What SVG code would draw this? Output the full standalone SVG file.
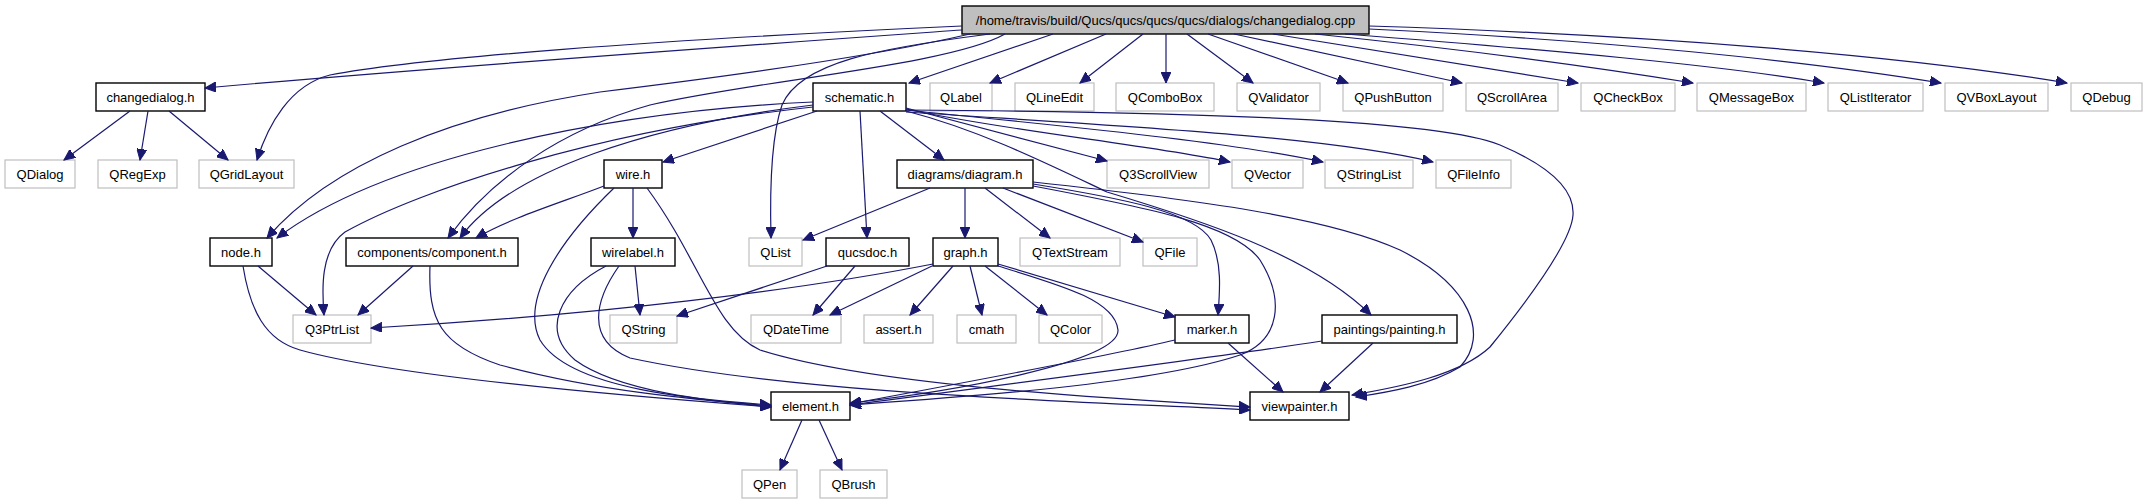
<svg xmlns="http://www.w3.org/2000/svg" width="2147" height="504" viewBox="0 0 2147 504">
<style>
.e{fill:none;stroke:#191970;stroke-width:1.2;marker-end:url(#ah)}
.n rect{fill:#fff;stroke:#000;stroke-width:1.4}
.x rect{fill:#fff;stroke:#bfbfbf;stroke-width:1.2}
.r rect{fill:#bfbfbf;stroke:#000;stroke-width:1.4}
text{font-family:"Liberation Sans",Arial,sans-serif;font-size:13px;text-anchor:middle;fill:#000}
</style>
<defs>
<marker id="ah" markerWidth="12" markerHeight="10" refX="11" refY="5" orient="auto" markerUnits="userSpaceOnUse">
<path d="M0,0 L11,5 L0,10 z" fill="#191970" stroke="#191970" stroke-width="1"/>
</marker>
</defs>
<rect width="2147" height="504" fill="#fff"/>
<g id="nodes">
<g id="root" class="r"><rect x="962" y="6" width="407" height="28"/><text x="1165.5" y="24.5">/home/travis/build/Qucs/qucs/qucs/qucs/dialogs/changedialog.cpp</text></g>
<g id="changedialog_h" class="n"><rect x="96" y="83" width="109" height="28"/><text x="150.5" y="101.5">changedialog.h</text></g>
<g id="schematic_h" class="n"><rect x="813" y="83" width="93" height="28"/><text x="859.5" y="101.5">schematic.h</text></g>
<g id="QLabel" class="x"><rect x="930" y="83" width="62" height="28"/><text x="961" y="101.5">QLabel</text></g>
<g id="QLineEdit" class="x"><rect x="1015" y="83" width="79" height="28"/><text x="1054.5" y="101.5">QLineEdit</text></g>
<g id="QComboBox" class="x"><rect x="1116" y="83" width="98" height="28"/><text x="1165" y="101.5">QComboBox</text></g>
<g id="QValidator" class="x"><rect x="1237" y="83" width="83" height="28"/><text x="1278.5" y="101.5">QValidator</text></g>
<g id="QPushButton" class="x"><rect x="1343" y="83" width="100" height="28"/><text x="1393" y="101.5">QPushButton</text></g>
<g id="QScrollArea" class="x"><rect x="1466" y="83" width="92" height="28"/><text x="1512" y="101.5">QScrollArea</text></g>
<g id="QCheckBox" class="x"><rect x="1581" y="83" width="94" height="28"/><text x="1628" y="101.5">QCheckBox</text></g>
<g id="QMessageBox" class="x"><rect x="1697" y="83" width="109" height="28"/><text x="1751.5" y="101.5">QMessageBox</text></g>
<g id="QListIterator" class="x"><rect x="1828" y="83" width="95" height="28"/><text x="1875.5" y="101.5">QListIterator</text></g>
<g id="QVBoxLayout" class="x"><rect x="1945" y="83" width="103" height="28"/><text x="1996.5" y="101.5">QVBoxLayout</text></g>
<g id="QDebug" class="x"><rect x="2071" y="83" width="71" height="28"/><text x="2106.5" y="101.5">QDebug</text></g>
<g id="QDialog" class="x"><rect x="5" y="160" width="70" height="28"/><text x="40" y="178.5">QDialog</text></g>
<g id="QRegExp" class="x"><rect x="98" y="160" width="79" height="28"/><text x="137.5" y="178.5">QRegExp</text></g>
<g id="QGridLayout" class="x"><rect x="199" y="160" width="95" height="28"/><text x="246.5" y="178.5">QGridLayout</text></g>
<g id="wire_h" class="n"><rect x="604" y="160" width="58" height="28"/><text x="633" y="178.5">wire.h</text></g>
<g id="diagram_h" class="n"><rect x="897" y="160" width="136" height="28"/><text x="965" y="178.5">diagrams/diagram.h</text></g>
<g id="Q3ScrollView" class="x"><rect x="1107" y="160" width="102" height="28"/><text x="1158" y="178.5">Q3ScrollView</text></g>
<g id="QVector" class="x"><rect x="1232" y="160" width="71" height="28"/><text x="1267.5" y="178.5">QVector</text></g>
<g id="QStringList" class="x"><rect x="1325" y="160" width="88" height="28"/><text x="1369" y="178.5">QStringList</text></g>
<g id="QFileInfo" class="x"><rect x="1436" y="160" width="75" height="28"/><text x="1473.5" y="178.5">QFileInfo</text></g>
<g id="node_h" class="n"><rect x="210" y="238" width="62" height="28"/><text x="241" y="256.5">node.h</text></g>
<g id="component_h" class="n"><rect x="346" y="238" width="172" height="28"/><text x="432" y="256.5">components/component.h</text></g>
<g id="wirelabel_h" class="n"><rect x="591" y="238" width="84" height="28"/><text x="633" y="256.5">wirelabel.h</text></g>
<g id="QList" class="x"><rect x="749" y="238" width="53" height="28"/><text x="775.5" y="256.5">QList</text></g>
<g id="qucsdoc_h" class="n"><rect x="826" y="238" width="83" height="28"/><text x="867.5" y="256.5">qucsdoc.h</text></g>
<g id="graph_h" class="n"><rect x="933" y="238" width="65" height="28"/><text x="965.5" y="256.5">graph.h</text></g>
<g id="QTextStream" class="x"><rect x="1020" y="238" width="100" height="28"/><text x="1070" y="256.5">QTextStream</text></g>
<g id="QFile" class="x"><rect x="1143" y="238" width="54" height="28"/><text x="1170" y="256.5">QFile</text></g>
<g id="Q3PtrList" class="x"><rect x="293" y="315" width="78" height="28"/><text x="332" y="333.5">Q3PtrList</text></g>
<g id="QString" class="x"><rect x="610" y="315" width="67" height="28"/><text x="643.5" y="333.5">QString</text></g>
<g id="QDateTime" class="x"><rect x="751" y="315" width="90" height="28"/><text x="796" y="333.5">QDateTime</text></g>
<g id="assert_h" class="x"><rect x="864" y="315" width="69" height="28"/><text x="898.5" y="333.5">assert.h</text></g>
<g id="cmath" class="x"><rect x="957" y="315" width="59" height="28"/><text x="986.5" y="333.5">cmath</text></g>
<g id="QColor" class="x"><rect x="1039" y="315" width="63" height="28"/><text x="1070.5" y="333.5">QColor</text></g>
<g id="marker_h" class="n"><rect x="1175" y="315" width="74" height="28"/><text x="1212" y="333.5">marker.h</text></g>
<g id="painting_h" class="n"><rect x="1322" y="315" width="135" height="28"/><text x="1389.5" y="333.5">paintings/painting.h</text></g>
<g id="element_h" class="n"><rect x="771" y="392" width="79" height="28"/><text x="810.5" y="410.5">element.h</text></g>
<g id="viewpainter_h" class="n"><rect x="1250" y="392" width="99" height="28"/><text x="1299.5" y="410.5">viewpainter.h</text></g>
<g id="QPen" class="x"><rect x="742" y="470" width="55" height="28"/><text x="769.5" y="488.5">QPen</text></g>
<g id="QBrush" class="x"><rect x="820" y="470" width="67" height="28"/><text x="853.5" y="488.5">QBrush</text></g>
</g>
<g id="edges">
<path class="e" d="M962,30 C750,45 450,66 205,88"/>
<path class="e" d="M962,26 C650,40 420,58 330,75 C290,85 268,125 257,160"/>
<path class="e" d="M970,34 C880,55 740,75 600,92 C450,115 330,165 267,238"/>
<path class="e" d="M990,34 C880,48 800,62 782,105 C770,140 770,200 771,238"/>
<path class="e" d="M1005,34 C950,65 760,80 650,105 C560,130 490,180 448,238"/>
<path class="e" d="M1053,34 L909,83"/>
<path class="e" d="M1106,34 L990,83"/>
<path class="e" d="M1143,34 L1080,83"/>
<path class="e" d="M1166,34 L1166,83"/>
<path class="e" d="M1187,34 L1253,83"/>
<path class="e" d="M1208,34 L1348,83"/>
<path class="e" d="M1234,34 L1462,83"/>
<path class="e" d="M1273,34 C1400,55 1500,70 1578,83"/>
<path class="e" d="M1315,34 C1470,50 1600,68 1693,83"/>
<path class="e" d="M1345,34 C1550,50 1720,65 1824,83"/>
<path class="e" d="M1369,29 C1600,40 1800,60 1941,83"/>
<path class="e" d="M1369,26 C1650,35 1900,55 2067,83"/>
<path class="e" d="M130,111 L64,160"/>
<path class="e" d="M148,111 L140,160"/>
<path class="e" d="M169,111 L228,160"/>
<path class="e" d="M817,111 L663,162"/>
<path class="e" d="M860,111 L867,238"/>
<path class="e" d="M880,111 L944,160"/>
<path class="e" d="M906,108 L1107,161"/>
<path class="e" d="M906,109 C1000,130 1150,145 1230,162"/>
<path class="e" d="M906,110 C1050,125 1220,140 1323,162"/>
<path class="e" d="M906,112 C1100,125 1320,135 1433,162"/>
<path class="e" d="M906,110 C1200,112 1440,120 1500,145 C1540,162 1575,185 1573,215 C1571,245 1520,310 1490,347 C1460,375 1400,387 1352,395"/>
<path class="e" d="M906,111 C980,130 1050,165 1107,192 C1200,220 1310,255 1371,315"/>
<path class="e" d="M813,102 C600,112 380,160 277,238"/>
<path class="e" d="M813,105 C650,125 510,170 460,238"/>
<path class="e" d="M813,107 C600,130 420,190 345,232 C320,250 322,290 324,315"/>
<path class="e" d="M604,186 C560,203 510,218 476,238"/>
<path class="e" d="M633,188 L633,238"/>
<path class="e" d="M614,188 C560,240 520,300 540,340 C570,390 700,400 771,405"/>
<path class="e" d="M647,188 C700,260 715,330 760,350 C870,385 1100,398 1250,407"/>
<path class="e" d="M635,266 L640,315"/>
<path class="e" d="M606,266 C560,290 540,330 575,360 C620,393 720,402 771,407"/>
<path class="e" d="M619,266 C595,300 585,340 630,358 C800,395 1100,402 1250,410"/>
<path class="e" d="M258,266 L316,315"/>
<path class="e" d="M243,266 C250,310 265,340 300,350 C400,378 650,398 771,407"/>
<path class="e" d="M413,266 L358,315"/>
<path class="e" d="M430,266 C428,320 440,345 500,365 C600,392 700,400 771,406"/>
<path class="e" d="M933,264 C800,290 600,315 371,328"/>
<path class="e" d="M932,266 L830,315"/>
<path class="e" d="M953,266 L910,315"/>
<path class="e" d="M970,266 L982,315"/>
<path class="e" d="M985,266 L1047,315"/>
<path class="e" d="M998,264 L1175,317"/>
<path class="e" d="M998,266 C1060,285 1115,300 1118,330 C1120,362 950,392 850,403"/>
<path class="e" d="M827,266 L677,316"/>
<path class="e" d="M855,266 L813,315"/>
<path class="e" d="M930,188 L803,240"/>
<path class="e" d="M965,188 L965,238"/>
<path class="e" d="M985,188 L1050,238"/>
<path class="e" d="M1003,188 L1143,242"/>
<path class="e" d="M1033,184 C1120,198 1195,212 1211,240 C1222,262 1220,290 1218,315"/>
<path class="e" d="M1033,186 C1150,208 1235,225 1260,260 C1285,300 1280,340 1240,355 C1150,385 950,398 850,405"/>
<path class="e" d="M1033,182 C1200,200 1330,218 1400,250 C1470,285 1490,335 1460,367 C1430,385 1390,392 1356,397"/>
<path class="e" d="M1175,340 C1100,358 950,385 850,404"/>
<path class="e" d="M1228,343 L1283,392"/>
<path class="e" d="M1322,341 C1200,360 1000,385 850,405"/>
<path class="e" d="M1373,343 L1320,392"/>
<path class="e" d="M802,420 L780,470"/>
<path class="e" d="M819,420 L842,470"/>
</g>
</svg>
